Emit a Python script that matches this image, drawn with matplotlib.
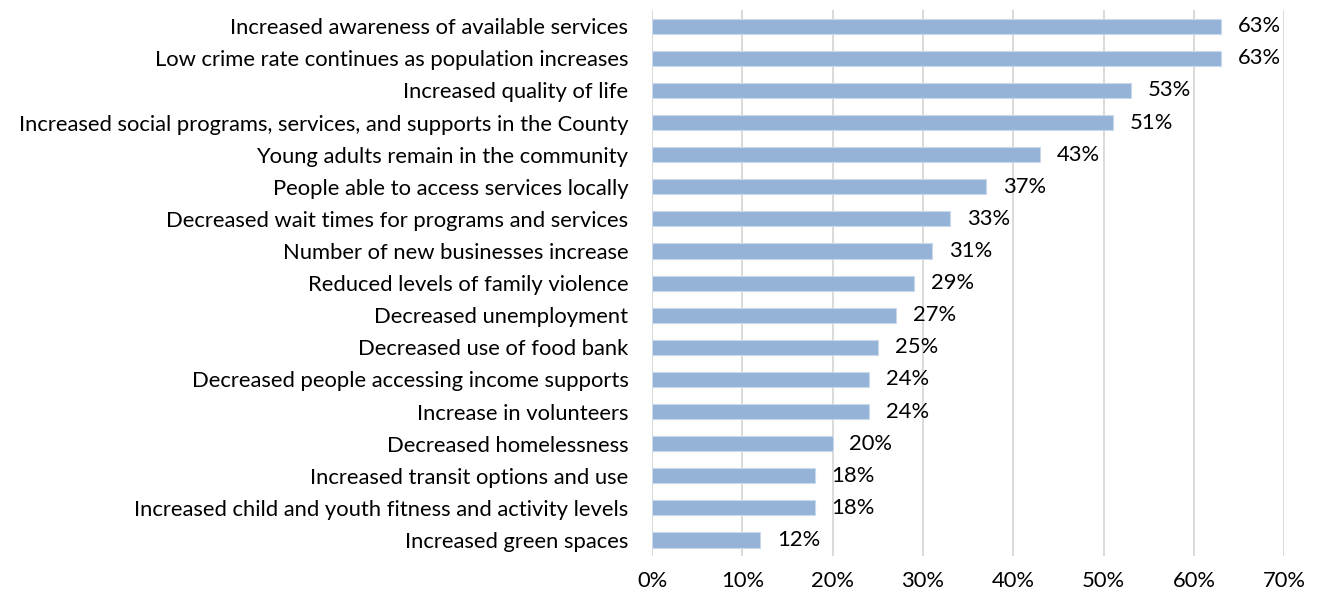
import matplotlib.pyplot as plt
from matplotlib.ticker import FuncFormatter

# outcome statements, top to bottom
outcomes = [
    'Increased awareness of available services',
    'Low crime rate continues as population increases',
    'Increased quality of life',
    'Increased social programs, services, and supports in the County',
    'Young adults remain in the community',
    'People able to access services locally',
    'Decreased wait times for programs and services',
    'Number of new businesses increase',
    'Reduced levels of family violence',
    'Decreased unemployment',
    'Decreased use of food bank',
    'Decreased people accessing income supports',
    'Increase in volunteers',
    'Decreased homelessness',
    'Increased transit options and use',
    'Increased child and youth fitness and activity levels',
    'Increased green spaces',
]
percent = [63, 63, 53, 51, 43, 37, 33, 31, 29, 27, 25, 24, 24, 20, 18, 18, 12]
xticks = [0, 10, 20, 30, 40, 50, 60, 70]

plt.rcParams['font.family'] = ['Lato', 'DejaVu Sans']
fs = 15.8

fig = plt.figure(figsize=(13.2, 5.96), dpi=100)
ax = fig.add_axes([0.494, 0.067, 0.479, 0.916])

ypos = list(range(len(outcomes)))
ax.barh(ypos, percent, height=0.47, color='#95b3d7', edgecolor='#c9d9ec',
        linewidth=0.8, zorder=3)

for y, v in zip(ypos, percent):
    ax.annotate(f'{v}%', (v, y), xytext=(12, 0), textcoords='offset points',
                va='center', ha='left', fontsize=fs, color='#000000')

ax.set_yticks(ypos)
ax.set_yticklabels(outcomes, fontsize=fs)
ax.set_ylim(len(outcomes) - 0.5, -0.5)

ax.set_xlim(0, 70)
ax.set_xticks(xticks)
ax.xaxis.set_major_formatter(FuncFormatter(lambda v, p: f'{v:.0f}%'))
ax.tick_params(axis='x', labelsize=fs, length=0, pad=11)
ax.tick_params(axis='y', length=0, pad=17)

ax.grid(axis='x', color='#d9d9d9', linewidth=1.4, zorder=0)
for s in ax.spines.values():
    s.set_visible(False)

fig.savefig('out.png', dpi=100)
